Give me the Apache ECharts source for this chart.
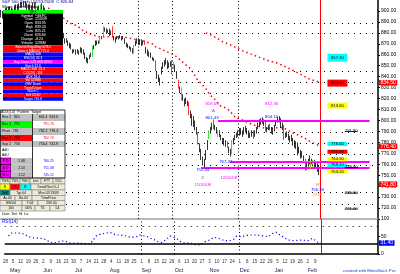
<!DOCTYPE html>
<html><head><meta charset="utf-8">
<script src="https://cdn.jsdelivr.net/npm/echarts@6/dist/echarts.min.js"></script>
<style>html,body{margin:0;padding:0;background:#fff}#c{width:400px;height:274px}</style>
</head><body><div id="c"></div>
<script>
const FONT = '"Liberation Sans", Arial, sans-serif';
const monthNames = ['Jan','Feb','Mar','Apr','May','Jun','Jul','Aug','Sep','Oct','Nov','Dec'];
const firstDay = [2008, 3, 28];      // first weekday slot (Apr 28 2008)
const totalSlots = 247;              // trading-day slots incl. empty future area

// daily bars [open, close, low, high]
const candles = [
[897,898,894,901],[898,896,893,900],[896,899,894,901],[899,901,897,903],[901,900,898,903],
[900,902,898,904],[902,901,899,904],[901,899,897,903],[899,900,896,902],[900,903,898,905],
[903,904,901,906],[904,902,900,906],[902,905,901,907],[905,906,903,908],[906,905,903,908],
[905,907,904,909],[907,905,903,909],[905,903,901,907],[903,904,901,906],[904,902,900,906],
[902,903,900,905],[903,906,901,908],[906,904,902,908],[907,902,900,908],[902,901,899,904],
[901,903,899,905],[899,905,898,906],[905,903,901,907],[903,901,899,905],[901,899,897,903],
[899,896,894,900],[896,897,893,899],[896,893,891,898],[893,894,890,896],[893,890,888,895],
[890,891,887,893],[890,887,885,892],[887,884,882,888],[884,885,881,887],[884,881,879,886],
[881,878,876,882],[878,879,875,880],[874,872,870,875],[873,874,871,875],[872,869,868,873],
[869,867,866,871],[867,868,865,870],[865,862,861,865],[862,864,862,865],[864,861,860,865],
[861,863,861,865],[863,861,860,864],[862,865,862,867],[865,863,861,866],[863,861,860,865],
[860,857,856,862],[857,854,853,858],[855,853,852,857],[856,859,856,860],[859,860,858,862],
[859,867,858,868],[867,868,865,869],[868,871,868,873],[871,872,869,873],[872,871,870,873],
[871,875,870,876],[875,876,874,877],[878,885,877,886],[885,883,881,885],[883,881,879,884],
[881,882,880,883],[882,880,877,884],[880,881,878,882],[884,877,876,886],[877,874,873,877],
[874,873,871,876],[874,876,874,877],[876,875,874,877],[875,877,875,878],[876,874,873,876],
[874,876,874,877],[875,872,870,875],[871,868,867,871],[868,869,866,870],[868,866,865,868],
[866,864,863,867],[864,862,861,866],[862,868,861,869],[869,872,868,873],[872,873,870,875],
[873,871,869,875],[871,872,869,874],[872,870,868,874],[870,871,869,873],[873,869,869,873],
[866,863,861,867],[863,861,859,865],[861,859,858,863],[859,860,857,862],[858,856,855,858],
[856,855,854,857],[854,846,845,855],[843,841,838,845],[840,838,835,842],[837,835,832,839],
[845,847,842,849],[849,851,847,853],[852,853,849,855],[853,855,851,857],[853,850,847,855],
[851,852,848,853],[851,853,849,854],[854,843,842,855],[847,852,847,853],[850,848,845,851],
[844,841,838,845],[837,830,829,837],[829,827,825,831],[819,829,818,830],[822,820,818,824],
[818,815,813,820],[816,818,815,821],[817,814,813,818],[816,806,805,817],[806,804,802,809],
[802,799,795,806],[799,797,794,804],[797,794,791,800],[792,790,787,794],[788,779,778,789],
[778,775,771,779],[772,769,764,774],[766,763,759,767],[762,760,756,765],[765,768,764,773],
[775,778,773,782],[784,790,783,791],[790,792,788,794],[793,795,791,798],[798,793,792,801],
[794,792,791,796],[792,790,788,794],[786,791,785,791],[790,788,785,791],[787,785,782,787],
[784,782,779,784],[782,780,777,784],[780,778,776,782],[781,776,775,781],[775,772,770,776],
[772,769,767,774],[770,781,769,782],[781,783,778,784],[783,785,782,787],[785,787,784,789],
[787,789,785,791],[789,791,786,793],[791,789,787,793],[789,787,785,791],[787,790,787,794],
[790,793,789,795],[792,790,787,793],[790,787,784,791],[787,786,784,789],[786,789,785,791],
[790,784,783,791],[785,788,785,791],[789,792,788,794],[793,796,792,798],[796,799,794,801],
[799,800,796,802],[800,801,797,803],[801,799,795,801],[798,791,790,799],[791,793,789,794],
[793,795,791,796],[797,792,791,797],[792,790,788,794],[790,789,787,793],[791,794,790,796],
[795,798,795,800],[798,801,798,803],[801,802,798,804],[801,798,793,802],[797,794,791,798],
[795,783,782,796],[784,786,784,789],[786,788,785,790],[787,785,782,788],[785,783,780,786],
[783,785,781,787],[784,781,777,784],[780,777,775,782],[777,776,774,781],[775,772,768,780],
[772,774,770,776],[772,769,765,773],[769,768,766,772],[767,765,762,768],[764,755,754,765],
[757,759,755,763],[760,762,758,765],[762,764,760,768],[764,762,760,765],[759,764,758,764],
[763,761,757,764],[761,759,756,762],[759,756,753,761],[756,753,750,759],[754,756,752,759]
];

// moving averages: [bar index, value]
const ma50 = [[31,902.7],[36,899],[41,893.6],[45,889],[50,886.4],[54,881.8],[57,880],[60,878.2],
[64,876.4],[71,876.4],[80,876.4],[83,875.5],[86,874.5],[90,873.6],[93,872.7],[99,870],[101,867.3],
[103,866.4],[110,861.8],[112,860.9],[114,859.1],[118,854.5],[120,851.8],[124,847.3],[126,842.7],
[128,838.2],[131,833.6],[134,829.1],[137,822.7],[139,820.9],[143,813.6],[148,810.9],[151,806.4],
[154,801.8],[156,801.8],[161,798.2],[166,795.5],[173,792.7],[184,793.6],[187,791.8],[190,789.1],
[192,788.2],[199,783.6],[203,780],[209,776.4]];
const ma200 = [[134,880],[137,878.2],[141,875.5],[145,871.8],[150,869.1],[158,863.6],[163,860.9],
[168,858.2],[175,854.5],[180,852.7],[186,849.1],[194,843.6],[201,838.2],[207,835.5],[209,834.5]];
// RSI(14): [bar index, value]
const rsi = [[2,51.4],[4,60],[8,60],[11,59],[16,48.6],[19,45.7],[24,44.9],[26,42],[29,35.1],[32,31.4],
[37,37.1],[40,35.7],[43,31.4],[50,30.6],[56,28.6],[58,40],[60,51.4],[63,57.1],[66,59],[69,62],[73,54.3],
[76,54.3],[80,51.4],[83,47.7],[86,48.6],[89,54.3],[94,49.4],[96,44.9],[99,40],[101,35.1],[103,32.3],
[106,40],[109,51.4],[113,44.9],[116,35.1],[119,30.6],[122,32.3],[126,25.7],[129,25.7],[132,35.1],
[135,40],[138,47.7],[141,44.9],[145,38],[148,38],[151,42],[153,51.4],[156,49.4],[161,54.3],[164,54.3],
[167,54.3],[171,51.4],[174,49.4],[177,59],[179,62],[184,47.7],[187,40],[191,38],[196,40],[200,38],
[203,44.9],[207,32.3],[209,31.4]];

const gridLevels = [889.1, 880, 844.5, 834.5, 824.5, 789.1, 779.1, 769.1, 759.1, 734.5, 723.6];
const rsiGridLevels = [80];
const rsiOversold = 30;
const vGridDays = ['2008-09-01','2008-10-01','2008-12-01'];
// support / resistance lines [from bar, to bar, level]
const magentaLevels = [[142,241,800],[150,241,762.7],[131,241,756.4]];
const orangeLevel = [197,209,762.5];
const targetLevel = 741.8;
const levelBoxValues = [857.3, 834.1, 813.6, 778.6, 771.4, 764.5, 759.1, 753.2];
const underlinedValues = [791.8, 758.6, 735.5, 721.0];
// annotations: [bar index, level, text, kind]
const notes = [
 [138,815.5,'818.69','m'],[139,809,'A','m'],[138,802,'801.43','b'],
 [132,754.5,'752.44','b'],[132,748,'X','m'],[132,741.5,'11/20/08','m'],
 [147,762,'767.42','b'],[149,755.5,'ii','m'],[149,748,'12/01/08','m'],
 [177,815.5,'812.36','m'],[177,803.5,'804.10','b'],
 [207,741,'W','o'],[207,737,'756.30','b'],[207,732.5,'2/13','o']
];

// ---------- build ----------
const dates = [];
{ const d = new Date(Date.UTC(firstDay[0], firstDay[1], firstDay[2]));
  while (dates.length < totalSlots) { const wd = d.getUTCDay(); if (wd > 0 && wd < 6) dates.push(d.toISOString().slice(0,10)); d.setUTCDate(d.getUTCDate()+1); } }
const nBars = candles.length;
const last = dates[nBars-1];
const wday = s => new Date(s + 'T00:00:00Z').getUTCDay();

const candleData = candles.map(([o,c,l,h]) => {
  const it = {value:[o,c,l,h]};
  if (Math.abs(c-o) >= 4) { const col = c > o ? '#00dd00' : '#ff0000'; it.itemStyle = {color:col,color0:col,borderColor:col,borderColor0:col}; }
  return it;
});

const noteColor = {m:'#ff00ff', b:'#0000ff', o:'#ff8000'};
const boxColors = ['#00ffff','#ff0000','#ffff00','#00ffff','#ff0000','#ffff00','#00ffff','#ffff00'];
const boxHeights = [8,7,6,4,4,4,4,4];
const boxSlot = dates[220], ulSlot = dates[229];

const markPts = [];
levelBoxValues.forEach((v,k) => markPts.push({coord:[boxSlot, v], symbol:'rect', symbolSize:[20, boxHeights[k]],
  itemStyle:{color:boxColors[k]}, label:{show:true, position:'inside', formatter:v.toFixed(2), fontSize:4.2, color:'#000', fontFamily:FONT}}));
underlinedValues.forEach(v => markPts.push({coord:[ulSlot, v], symbol:'rect', symbolSize:[13,0.8], symbolOffset:[0,2],
  itemStyle:{color:'#000'}, label:{show:true, position:'inside', offset:[0,-0.5], formatter:v.toFixed(2), fontSize:4.2, color:'#000', fontFamily:FONT}}));
notes.forEach(([i,v,t,k]) => markPts.push({coord:[dates[i], v], symbol:'rect', symbolSize:[1,1], itemStyle:{color:'rgba(0,0,0,0)'},
  label:{show:true, position:'inside', formatter:t, fontSize:4.3, color:noteColor[k], fontFamily:FONT}}));

const vDotted = {type:[1,2.5], color:'#000', width:1};
const priceMarkLines = [];
vGridDays.forEach(d => priceMarkLines.push({xAxis:d, lineStyle:vDotted}));
priceMarkLines.push({xAxis:last, lineStyle:{color:'#ff0000', width:1, type:'solid'}});
magentaLevels.forEach(([a,b,v]) => priceMarkLines.push([{coord:[dates[a], v], lineStyle:{color:'#ff00ff', width:2, type:'solid'}}, {coord:[dates[b], v]}]));
priceMarkLines.push([{coord:[dates[orangeLevel[0]], orangeLevel[2]], lineStyle:{color:'#e08020', width:1, type:'solid'}}, {coord:[dates[orangeLevel[1]], orangeLevel[2]]}]);
priceMarkLines.push([{coord:[dates[202], orangeLevel[2]], lineStyle:{color:'#e08020', width:1, type:'solid'}}, {coord:[dates[202], 755]}]);
const tagLine = (v, bg, txt) => ({yAxis:v, lineStyle:{width:0, color:'rgba(0,0,0,0)'},
  label:{show:true, position:'end', distance:1, formatter:txt, backgroundColor:bg, color:'#fff', fontSize:5, padding:[0.5,1.5,0,1.5], fontFamily:FONT}});
priceMarkLines.push(tagLine(targetLevel, '#ff0000', targetLevel.toFixed(2)));

const gridMarkLines = gridLevels.map(v => ({yAxis:v, lineStyle:{type:[1,5], color:'#000', width:1}}));
const ma200Last = ma200[ma200.length-1][1], ma50Last = ma50[ma50.length-1][1], rsiLast = rsi[rsi.length-1][1];
gridMarkLines.push(tagLine(ma200Last, '#ff0000', ma200Last.toFixed(2)));

const rsiMarkLines = [];
vGridDays.forEach(d => rsiMarkLines.push({xAxis:d, lineStyle:vDotted}));
rsiMarkLines.push({xAxis:last, lineStyle:{color:'#ff0000', width:1, type:'solid'}});
rsiGridLevels.forEach(v => rsiMarkLines.push({yAxis:v, lineStyle:{type:[1,5], color:'#000', width:1}}));
rsiMarkLines.push({yAxis:rsiOversold, lineStyle:{color:'#000', width:1.5, type:'solid'}});
rsiMarkLines.push(tagLine(rsiLast, '#0000ff', rsiLast.toFixed(2)));

// ---------- overlay panels ----------
const G = [];
function rect(x,y,w,h,fill,stroke){ G.push({type:'rect', shape:{x:x,y:y,width:w,height:h}, style:{fill:fill, stroke:stroke||null, lineWidth:stroke?0.6:0}, z:100, silent:true}); }
function txt(x,y,t,color,size,align){ G.push({type:'text', x:x, y:y, style:{text:t, fill:color, font:size+'px '+FONT, textAlign:align||'left', align:align||'left', textVerticalAlign:'middle', verticalAlign:'middle'}, z:101, silent:true}); }

txt(2,2,'S&P 500 (Daily) 02/13/2009  C 826.84','#000080',4.2);
txt(2,6.5,'Wave Count: Minor','#000',4.2);

const infoLabels = ['Symbol','Date','Open','High','Low','Close','Change','Volume'];
const infoValues = ['^GSPC','2/13/09','833.95','839.43','825.21','826.84','-8.24','5296M'];
const signalRows = [['#ff0000','Bearish Engulfing 02/10'],['#ff0000','Close < MA(50) 775.6'],['#0000ff','MA(5) Sell'],
 ['#0000ff','RSI(14) 32.3'],['#ff00ff','Gap Down 02/10/09 839.0'],['#0000ff','Stoch 21.6'],['#ff0000','MACD Sell -11.2'],
 ['#ff0000','CCI(20) -118'],['#0000ff','ADX 18.4'],['#ff0000','Vol 5296M'],['#0000ff','OBV Down'],['#ff0000','Trend Down'],
 ['#0000ff','Wave C'],['#ff0000','Sell 02/10'],['#0000ff','Target 741.8']];
rect(3,10,60,3.6,'#00ff00'); txt(33,11.9,'SPX','#000',3.6,'center');
rect(3,13.6,60,31.6,'#000');
infoLabels.forEach((l,k)=>{ txt(33,15.6+k*3.9,l,'#fff',3.5,'right'); txt(35,15.6+k*3.9,infoValues[k],'#fff',3.5,'left'); });
signalRows.forEach(([c,t],k)=>{ rect(3,45.2+k*3.7,60,3.7,c); txt(33,47.1+k*3.7,t,'#fff',3.3,'center'); });

// second panel
rect(0,110,65,4,'#fff'); txt(1,112,'ADX(14)  Pattern  Target','#000',3.7);
const lvlRows = [[114,7,'#c0c0c0','Res 2   801','#c0c0c0','801.4  813.6','#000'],[121,7,'#00ff00','Res 1   791','#fff','791.76','#ff0000'],
 [128,7,'#c0c0c0','Pivot   781','#c0c0c0','781.2  776.4','#000'],[135,6,'#ff0000','Sup 1   768','#fff','762.70','#ff0000'],
 [141,6,'#c0c0c0','Sup 2   756','#c0c0c0','756.4  741.8','#000'],[147,5.5,'#fff','AdD','#fff','',''],[152.5,5.5,'#fff','AdU','#fff','','']];
lvlRows.forEach(([y,h,lc,lt,rc,rt,rtc])=>{ rect(0,y,32.5,h,lc); txt(2,y+h/2,lt,'#000',3.5); rect(32.5,y,32.5,h,rc); if(rt) txt(48.5,y+h/2,rt,rtc,3.5,'center'); });
const waveRows = [['P D','2.48','760.25'],['A D','2.10','751.08'],['M U','1.12','745.12']];
waveRows.forEach(([a,b,c],k)=>{ const y=158+k*6.67; rect(0,y,11,6.67,'#ff00ff','#000'); txt(5.5,y+3.3,a,'#000',3.4,'center');
  rect(11,y,21.5,6.67,'#c0c0c0'); txt(21.5,y+3.3,b,'#000',3.4,'center'); rect(32.5,y,32.5,6.67,'#fff'); txt(48.5,y+3.3,c,'#0000ff',3.4,'center'); });
G.push({type:'rect', shape:{x:0.3,y:110,width:64.7,height:68}, style:{fill:null, stroke:'#000', lineWidth:0.8}, z:102, silent:true});
G.push({type:'line', shape:{x1:32.5,y1:114,x2:32.5,y2:178}, style:{stroke:'#000', lineWidth:0.8}, z:102, silent:true});
const beige = '#ece9d8';
const cellRows = [
 [178,6,[[0,10,beige,'TWS'],[10,10,beige,'TWL'],[20,10,beige,'TWC'],[30,11,beige,'Lmt'],[41,12,beige,'FTT'],[53,12,beige,'DCL']]],
 [184,6,[[0,10,'#ffff00','S'],[10,10,'#ff0000','X'],[20,11,'#00ffff','B'],[31,34,beige,'Trend Rev D-1']]],
 [190,5.5,[[0,10,'#008080','Sell'],[10,22,beige,'Tgt.04'],[32,33,beige,'Mvs 02/13/09']]],
 [195.5,5,[[0,15,beige,'Av.04'],[15,17,beige,'Bs.04'],[32,33,beige,'TimePrice']]],
 [200.5,5,[[0,22,beige,'SW.04'],[22,16,beige,'T.04'],[38,27,beige,'269.00']]],
 [205.5,5.5,[[0,22,beige,'100'],[22,13,beige,'56%'],[35,15,beige,'76'],[50,15,beige,'54']]]
];
cellRows.forEach(([y,h,cells])=>cells.forEach(([x,w,c,t])=>{ rect(x,y,w,h,c,'#808080'); txt(x+w/2,y+h/2,t,'#000',3.4,'center'); }));
txt(2,213.5,'Date  Set  Hi  Lo','#000',3.6);
txt(2,221.5,'RSI(14)','#0000ff',4.6);
txt(343,271,'created with MetaStock Pro','#2040c0',4.3);

const option = {
  animation:false, backgroundColor:'#fff',
  grid:[{left:0,right:22,top:-1,height:220},{left:0,right:22,top:219,height:35}],
  xAxis:[
    {gridIndex:0,type:'category',position:'bottom',data:dates,axisLine:{lineStyle:{color:'#a0a0a0',width:1.5}},axisTick:{show:false},axisLabel:{show:false},splitLine:{show:false}},
    {gridIndex:1,type:'category',position:'bottom',data:dates,axisLine:{lineStyle:{color:'#000',width:1.5}},axisTick:{show:false},splitLine:{show:false},
     axisLabel:{interval:(i,v)=>i<nBars && wday(v)===1, formatter:v=>String(+v.slice(8)), fontSize:4.5, color:'#303030', margin:5, fontFamily:FONT}},
    {gridIndex:1,type:'category',position:'bottom',data:dates,offset:8,axisLine:{show:false},axisTick:{show:false},splitLine:{show:false},
     axisLabel:{interval:(i,v)=>i>0 && i<nBars && v.slice(5,7)!==dates[i-1].slice(5,7), formatter:v=>monthNames[+v.slice(5,7)-1], fontSize:5.5, color:'#1a1a50', align:'left', margin:5, fontFamily:FONT}}
  ],
  yAxis:[
    {gridIndex:0,type:'value',position:'right',min:710,max:910,interval:10,
     axisLine:{show:true,lineStyle:{color:'#000',width:1.5}},axisTick:{show:true,length:2,lineStyle:{color:'#000'}},
     axisLabel:{fontSize:5,color:'#000',margin:3,formatter:v=>v.toFixed(2),showMinLabel:false,showMaxLabel:false,fontFamily:FONT},splitLine:{show:false}},
    {gridIndex:1,type:'value',position:'right',min:0,max:100,interval:50,
     axisLine:{show:true,lineStyle:{color:'#000',width:1.5}},axisTick:{show:true,length:2,lineStyle:{color:'#000'}},
     axisLabel:{fontSize:5,color:'#000',margin:3,fontFamily:FONT},splitLine:{show:false}}
  ],
  series:[
    {type:'line',name:'MA200',xAxisIndex:0,yAxisIndex:0,data:ma200,symbol:'none',z:2,
     lineStyle:{color:'#ff0000',width:1.5,type:[1.5,3]},
     markLine:{silent:true,symbol:['none','none'],label:{show:false},animation:false,data:gridMarkLines}},
    {type:'line',name:'MA50',xAxisIndex:0,yAxisIndex:0,data:ma50,symbol:'none',z:2,
     lineStyle:{color:'#ff0000',width:1.5,type:[1.5,3]},
     markLine:{silent:true,symbol:['none','none'],label:{show:false},animation:false,data:[tagLine(ma50Last,'#ff0000',ma50Last.toFixed(2))]}},
    {type:'candlestick',name:'Price',xAxisIndex:0,yAxisIndex:0,data:candleData,barWidth:1,z:3,
     itemStyle:{color:'#000',color0:'#000',borderColor:'#000',borderColor0:'#000',borderWidth:0.8},
     markLine:{silent:true,symbol:['none','none'],label:{show:false},animation:false,data:priceMarkLines},
     markPoint:{silent:true,animation:false,data:markPts}},
    {type:'line',name:'RSI',xAxisIndex:1,yAxisIndex:1,data:rsi,symbol:'none',
     lineStyle:{color:'#0000ff',width:1.2,type:[1.2,2.6]},
     markLine:{silent:true,symbol:['none','none'],label:{show:false},animation:false,data:rsiMarkLines}}
  ],
  graphic:{elements:G}
};
const chart = echarts.init(document.getElementById('c'), null, {renderer:'canvas'});
chart.setOption(option);
</script></body></html>
